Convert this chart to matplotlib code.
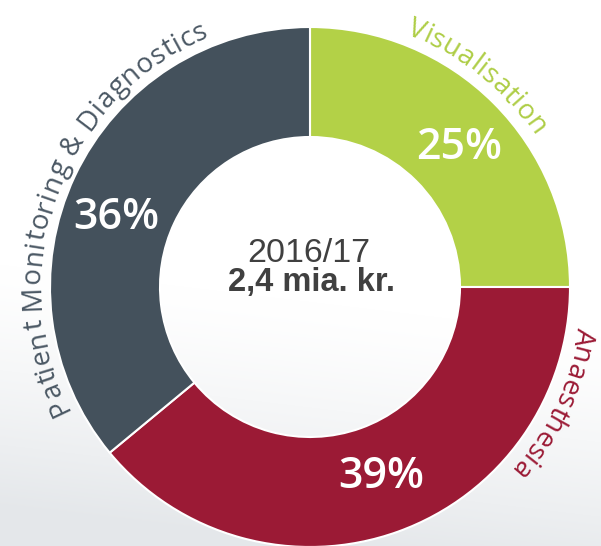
import numpy as np
import matplotlib
matplotlib.use('Agg')
import matplotlib.pyplot as plt
from matplotlib.font_manager import FontProperties

# ---- data ----
categories = ['Visualisation', 'Anaesthesia', 'Patient Monitoring & Diagnostics']
shares = [25, 39, 36]
slice_colors = ['#b3d147', '#9b1a35', '#44515c']
label_colors = ['#aecd45', '#9b1a35', '#4b5864']
center_year = '2016/17'
center_total = '2,4 mia. kr.'

# ---- layout ----
W, H, DPI = 601, 546, 100
cx, cy = 310, H - 287
R_out, R_in = 260, 150
pct_angle_shift = [2.0, -0.8, -5.6]     # degrees, clockwise from slice middle
pct_radius = [204, 202, 206]
label_angles = [38.5, 115.5, 290.5]
label_tracking = [0.4, 0.3, 0.8]        # extra px between letters
label_radius = 270

fig = plt.figure(figsize=(W / DPI, H / DPI), dpi=DPI)
ax = fig.add_axes([0, 0, 1, 1])

# subtle background swoosh gradient
ys = np.arange(H)[:, None]
xs = np.arange(W)[None, :]
t = np.clip((ys - 300 - 0.12 * (xs - 300)) / 246.0, 0, 1) ** 1.3
base = np.array([1.0, 1.0, 1.0])
tint = np.array([228, 231, 234]) / 255.0
grad = base[None, None, :] * (1 - t[..., None]) + tint[None, None, :] * t[..., None]
ax.imshow(grad, extent=[0, W, 0, H], origin='upper', zorder=0, aspect='auto')

wedges, texts, autotexts = ax.pie(
    shares, colors=slice_colors, startangle=90, counterclock=False,
    radius=R_out, center=(cx, cy),
    autopct=lambda p: f'{p:.0f}%', pctdistance=0.79,
    wedgeprops=dict(width=R_out - R_in, edgecolor='white', linewidth=1.5),
    textprops=dict(color='white', fontsize=31, family='Open Sans', fontweight='semibold'))
for w in wedges:
    w.set_zorder(2)

# nudge percentage labels along their slices
for w, a, dth, r in zip(wedges, autotexts, pct_angle_shift, pct_radius):
    mid = np.radians((w.theta1 + w.theta2) / 2 - dth)   # matplotlib angle (ccw from +x)
    a.set_position((cx + r * np.cos(mid), cy + r * np.sin(mid)))
    a.set_zorder(3)

ax.set_xlim(0, W)
ax.set_ylim(0, H)
ax.axis('off')

# center text
ax.text(309, H - 262, center_year, ha='center', va='baseline', fontsize=24.5,
        family='Liberation Sans', color='#404040', zorder=4)
ax.text(311, H - 291, center_total, ha='center', va='baseline', fontsize=23.5,
        family='Liberation Sans', fontweight='bold', color='#404040', zorder=4)

# curved labels
renderer = fig.canvas.get_renderer()
fp = FontProperties(family='Open Sans', size=20)


def arc_text(text, center_deg, radius, color, track):
    ref = renderer.get_text_width_height_descent('nn', fp, ismath=False)[0]
    advs = [renderer.get_text_width_height_descent('n' + c + 'n', fp, ismath=False)[0] - ref + track
            for c in text]
    total = sum(advs) - track
    start = center_deg - np.degrees(total / radius) / 2
    s = 0.0
    for c, a in zip(text, advs):
        ang = start + np.degrees((s + (a - track) / 2) / radius)
        th = np.radians(ang)
        x = cx + radius * np.sin(th)
        y = cy + radius * np.cos(th)
        ax.text(x, y, c, rotation=-ang, rotation_mode='anchor', ha='center',
                va='baseline', fontproperties=fp, color=color, zorder=4)
        s += a


for name, ang, col, trk in zip(categories, label_angles, label_colors, label_tracking):
    arc_text(name, ang, label_radius, col, trk)

fig.savefig('out.png', dpi=DPI)
